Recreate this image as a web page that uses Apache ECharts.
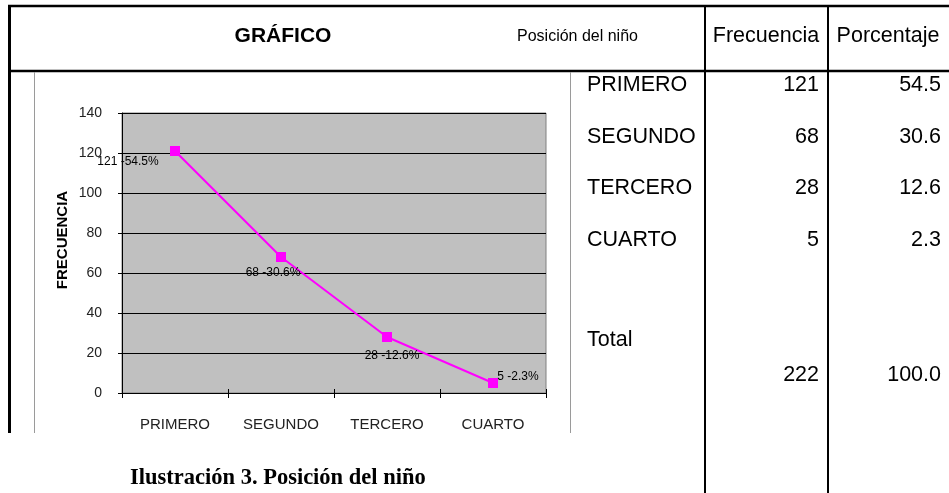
<!DOCTYPE html>
<html>
<head>
<meta charset="utf-8">
<script src="https://cdn.jsdelivr.net/npm/echarts@6/dist/echarts.min.js"></script>
<style>
html,body{margin:0;padding:0;background:#fff;}
#c{width:949px;height:493px;}
</style>
</head>
<body>
<div id="c"></div>
<script>
// ---- data ----
var categories = ['PRIMERO', 'SEGUNDO', 'TERCERO', 'CUARTO'];
var frequencies = [121, 68, 28, 5];
var percentages = [54.5, 30.6, 12.6, 2.3];
var totalFrequency = 222;
var totalPercentage = '100.0';
var yTicks = [0, 20, 40, 60, 80, 100, 120, 140];
var headerTitles = ['GRÁFICO', 'Posición del niño', 'Frecuencia', 'Porcentaje'];
var captionText = 'Ilustración 3. Posición del niño';
var yAxisTitle = 'FRECUENCIA';

// ---- layout / style (not data) ----
var labelOffsets = [[-47, 11], [-8, 16], [5, 19], [25, -6]];
var rowY = [85, 137, 188, 240];
var SANS = "'Liberation Sans', Arial, sans-serif";
var ROWFONT = '21.5px ' + SANS;

var chart = echarts.init(document.getElementById('c'), null, {renderer: 'canvas'});

var graphics = [];
function line(x1, y1, x2, y2, w, c) {
  graphics.push({type: 'line', silent: true, z: 50,
    shape: {x1: x1, y1: y1, x2: x2, y2: y2},
    style: {stroke: c || '#000', lineWidth: w}});
}
function text(t, x, y, font, align, fill) {
  graphics.push({type: 'text', silent: true, z: 50,
    style: {text: t, x: x, y: y, font: font, fill: fill || '#000',
      textAlign: align || 'left', textVerticalAlign: 'middle'}});
}
// table borders
line(8, 6, 949, 6, 2.5);
line(9.5, 5, 9.5, 433, 3);
line(8, 71, 949, 71, 2.5);
line(705, 5, 705, 493, 2);
line(828, 5, 828, 493, 2);
// chart image frame
line(34.5, 72, 34.5, 433, 1, '#9a9a9a');
line(570.5, 72, 570.5, 433, 1, '#9a9a9a');

// header texts
text(headerTitles[0], 283, 36, 'bold 21px ' + SANS, 'center');
text(headerTitles[1], 517, 37, '16px ' + SANS, 'left');
text(headerTitles[2], 766, 36, '21.5px ' + SANS, 'center');
text(headerTitles[3], 888, 36, '21.5px ' + SANS, 'center');

// table rows
for (var i = 0; i < categories.length; i++) {
  text(categories[i], 587, rowY[i], ROWFONT, 'left');
  text(String(frequencies[i]), 819, rowY[i], ROWFONT, 'right');
  text(percentages[i].toFixed(1), 941, rowY[i], ROWFONT, 'right');
}
text('Total', 587, 340, ROWFONT, 'left');
text(String(totalFrequency), 819, 375, ROWFONT, 'right');
text(totalPercentage, 941, 375, ROWFONT, 'right');

// caption
text(captionText, 130, 478, "bold 22.5px 'Liberation Serif', 'Times New Roman', serif", 'left');

// y axis title
graphics.push({type: 'text', silent: true, z: 50, x: 63, y: 240, rotation: Math.PI / 2,
  style: {text: yAxisTitle, x: 0, y: 0, font: 'bold 15px ' + SANS, fill: '#000',
    textAlign: 'center', textVerticalAlign: 'middle'}});

var seriesData = frequencies.map(function (v, i) {
  return {
    value: v,
    label: {
      show: true,
      position: 'inside',
      offset: labelOffsets[i],
      formatter: v + ' -' + percentages[i] + '%',
      color: '#000',
      fontSize: 12,
      fontFamily: SANS
    }
  };
});

chart.setOption({
  backgroundColor: '#fff',
  animation: false,
  grid: {
    left: 122, top: 113, width: 424, height: 280,
    show: true, backgroundColor: '#C0C0C0', borderColor: '#808080', borderWidth: 1
  },
  xAxis: [{
    type: 'category',
    data: categories,
    boundaryGap: true,
    axisLine: {show: true, lineStyle: {color: '#000', width: 1}},
    axisTick: {show: true, length: 5, alignWithLabel: false, lineStyle: {color: '#000'}},
    axisLabel: {color: '#222', fontSize: 15, fontFamily: SANS, margin: 24}
  }, {
    type: 'category',
    data: categories,
    position: 'bottom',
    boundaryGap: true,
    axisLine: {show: false},
    axisTick: {show: true, inside: true, length: 4, lineStyle: {color: '#000'}},
    axisLabel: {show: false}
  }],
  yAxis: {
    type: 'value',
    min: yTicks[0],
    max: yTicks[yTicks.length - 1],
    interval: yTicks[1] - yTicks[0],
    axisLine: {show: true, lineStyle: {color: '#000', width: 1}},
    axisTick: {show: true, length: 4, lineStyle: {color: '#000'}},
    axisLabel: {color: '#222', fontSize: 14, fontFamily: SANS, margin: 20},
    splitLine: {show: true, lineStyle: {color: '#000', width: 1}}
  },
  series: [{
    type: 'line',
    data: seriesData,
    symbol: 'rect',
    symbolSize: 10,
    lineStyle: {color: '#FF00FF', width: 2},
    itemStyle: {color: '#FF00FF'},
    z: 3
  }],
  graphic: graphics
});
</script>
</body>
</html>
